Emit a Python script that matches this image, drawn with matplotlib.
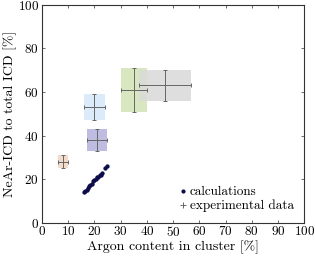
import numpy as np
import matplotlib.pyplot as plt
from matplotlib.patches import Rectangle

plt.rcParams['font.family'] = 'serif'
plt.rcParams['font.serif'] = ['cmr10', 'DejaVu Serif']
plt.rcParams['mathtext.fontset'] = 'cm'
plt.rcParams['axes.formatter.use_mathtext'] = True

# experimental data: centre, error bars, and uncertainty boxes
exp_x = [8, 20, 21, 35, 47]
exp_y = [28, 53, 38, 61, 63]
exp_xerr = [2, 4, 4, 5, 10]
exp_yerr = [3, 6, 5, 10, 7]
box_colors = ['#f2d5c4', '#d6e8f8', '#b3b1dc', '#d3e3b6', '#d9d9d9']

# calculations
calc_x = [16, 16.5, 17, 17.5, 18, 18.5, 19, 19.5, 20, 20.5, 21, 21.5, 22, 22.5, 23, 24, 25]
calc_y = [14, 14.5, 15, 16, 17, 17.5, 18, 19, 19.5, 20, 21, 21, 22, 22, 23, 25, 26]

fig, ax = plt.subplots(figsize=(3.15, 2.56), dpi=100)
fig.subplots_adjust(left=0.133, right=0.966, top=0.981, bottom=0.13)

for x, y, xe, ye, c in zip(exp_x, exp_y, exp_xerr, exp_yerr, box_colors):
    ax.add_patch(Rectangle((x - xe, y - ye), 2 * xe, 2 * ye, facecolor=c,
                           edgecolor='none', alpha=0.85, zorder=1))

ax.errorbar(exp_x, exp_y, xerr=exp_xerr, yerr=exp_yerr, fmt='none',
            ecolor='#666666', elinewidth=0.7, capsize=1.5, capthick=0.7, zorder=2)
ax.plot(calc_x, calc_y, 'o', color='#0c0c4a', ms=2.1, zorder=3)

h1, = ax.plot([], [], 'o', color='#0c0c4a', ms=2)
h2, = ax.plot([], [], '+', color='#666666', ms=4, mew=0.7)
ax.legend([h1, h2], ['calculations', 'experimental data'], loc='lower right',
          frameon=False, fontsize=9.5, handlelength=0.6, handletextpad=0.2,
          labelspacing=0.1, borderaxespad=0.4)

ax.set_xlim(0, 100)
ax.set_ylim(0, 100)
ax.set_xticks(np.arange(0, 101, 10))
ax.set_yticks(np.arange(0, 101, 20))
ax.tick_params(direction='in', top=True, right=True, labelsize=9.5, length=2.5,
               width=0.6, color='#555555', pad=2)
for s in ax.spines.values():
    s.set_linewidth(0.8)
    s.set_color('#333333')
ax.set_xlabel('Argon content in cluster [%]', fontsize=10, labelpad=1)
ax.set_ylabel('NeAr-ICD to total ICD [%]', fontsize=10, labelpad=1)

fig.savefig('out.png', dpi=100)
